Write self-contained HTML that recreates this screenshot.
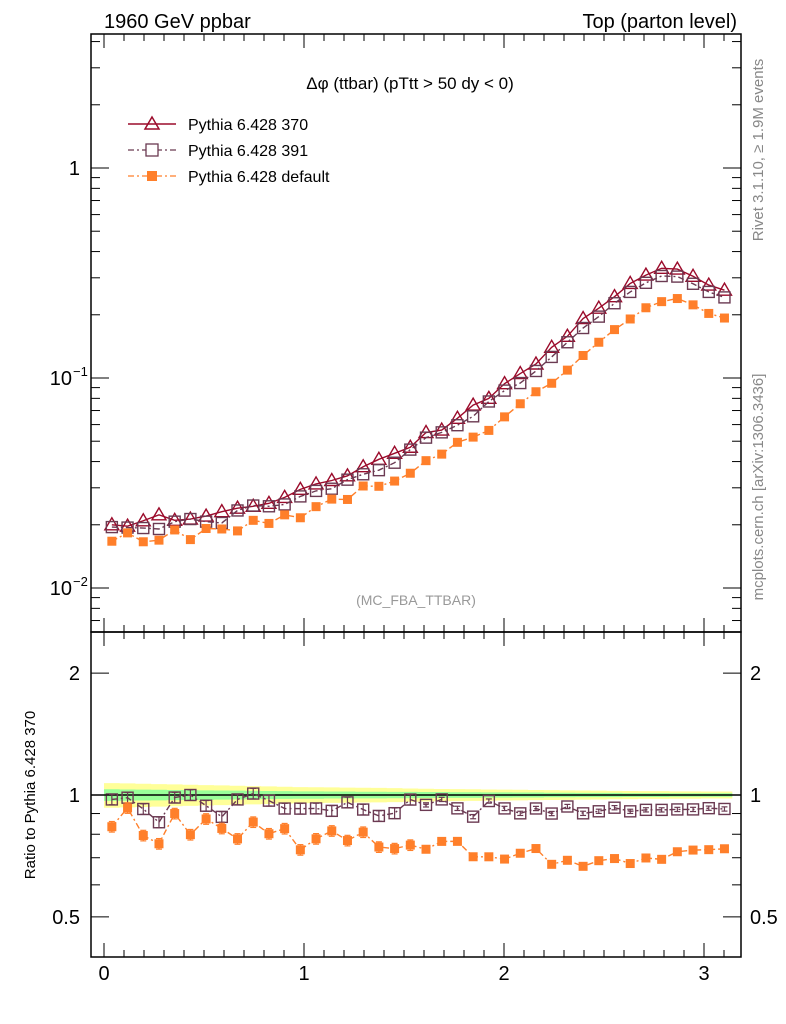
<!DOCTYPE html>
<html><head><meta charset="utf-8"><style>
html,body{margin:0;padding:0;background:#fff;}
svg{display:block;font-family:"Liberation Sans",sans-serif;}
</style></head><body>
<svg id="chart" width="786" height="1024" viewBox="0 0 786 1024" xmlns="http://www.w3.org/2000/svg">
<text x="104" y="28" font-size="20">1960 GeV ppbar</text>
<text x="737" y="28" font-size="20" text-anchor="end">Top (parton level)</text>
<text x="410" y="89" font-size="17" text-anchor="middle">Δφ (ttbar) (pTtt &gt; 50 dy &lt; 0)</text>
<text x="416" y="605" font-size="14" fill="#999" text-anchor="middle">(MC_FBA_TTBAR)</text>
<text transform="translate(763,150) rotate(-90)" font-size="15" fill="#888" text-anchor="middle">Rivet 3.1.10, ≥ 1.9M events</text>
<text transform="translate(763,487) rotate(-90)" font-size="15" fill="#888" text-anchor="middle">mcplots.cern.ch [arXiv:1306.3436]</text>
<text transform="translate(35,795) rotate(-90)" font-size="15" text-anchor="middle">Ratio to Pythia 6.428 370</text>
<g id="band"></g><g id="marks"></g><g id="axes"></g>
<g>
<line x1="128" y1="124" x2="176" y2="124" stroke="#9b0b2b" stroke-width="1.5"/>
<polygon points="152,117 159,129 145,129" fill="none" stroke="#9b0b2b" stroke-width="1.5"/>
<text x="188" y="130" font-size="16">Pythia 6.428 370</text>
<line x1="128" y1="150" x2="176" y2="150" stroke="#6b3a52" stroke-width="1.3" stroke-dasharray="6,3,2,3"/>
<rect x="146" y="144" width="12" height="12" fill="#fff" stroke="#6b3a52" stroke-width="1.3"/>
<text x="188" y="156" font-size="16">Pythia 6.428 391</text>
<line x1="128" y1="176" x2="176" y2="176" stroke="#ff7f2a" stroke-width="1.3" stroke-dasharray="6,3,2,3"/>
<rect x="147" y="171" width="10" height="10" fill="#ff7f2a"/>
<text x="188" y="182" font-size="16">Pythia 6.428 default</text>
</g>
</svg>
<script>
const v370=[0.0200,0.0197,0.0209,0.0223,0.0210,0.0213,0.0220,0.0231,0.0240,0.0245,0.0253,0.0270,0.0295,0.0313,0.0325,0.0342,0.0378,0.0410,0.0438,0.0468,0.0550,0.0565,0.0643,0.0743,0.0800,0.0940,0.105,0.1166,0.140,0.158,0.192,0.215,0.244,0.282,0.309,0.333,0.330,0.305,0.277,0.262];
const v391=[0.0195,0.0194,0.0193,0.0191,0.0207,0.0213,0.0207,0.0204,0.0234,0.0247,0.0245,0.0250,0.0273,0.0290,0.0297,0.0328,0.0348,0.0364,0.0395,0.0456,0.0520,0.0551,0.0596,0.0657,0.0773,0.0871,0.0946,0.108,0.126,0.148,0.173,0.196,0.227,0.257,0.284,0.306,0.304,0.281,0.257,0.242];
const vDef=[0.0167,0.0183,0.0166,0.0169,0.0189,0.0170,0.0192,0.0191,0.0187,0.0210,0.0203,0.0223,0.0216,0.0244,0.0265,0.0264,0.0306,0.0305,0.0323,0.0352,0.0404,0.0434,0.0494,0.0523,0.0563,0.0653,0.0754,0.0860,0.0944,0.109,0.128,0.148,0.170,0.191,0.216,0.231,0.239,0.223,0.203,0.193];
const bandYellow=[0.07,0.068,0.066,0.064,0.062,0.06,0.058,0.056,0.054,0.052,0.05,0.048,0.046,0.045,0.044,0.043,0.042,0.041,0.04,0.038,0.036,0.035,0.034,0.033,0.032,0.031,0.03,0.029,0.028,0.027,0.026,0.025,0.024,0.023,0.022,0.022,0.021,0.021,0.02,0.02];
const bandGreen=[0.033,0.032,0.031,0.03,0.029,0.028,0.027,0.026,0.025,0.024,0.023,0.022,0.021,0.021,0.02,0.02,0.019,0.019,0.018,0.018,0.017,0.017,0.016,0.016,0.015,0.015,0.014,0.014,0.013,0.013,0.012,0.012,0.012,0.011,0.011,0.011,0.01,0.01,0.01,0.01];
const xTickLabels=["0","1","2","3"];
const NS='http://www.w3.org/2000/svg';
const L=91,R=741,T=34,MB=632,RB=957;
const X=v=>104+v*200;
const Y=v=>168-Math.log10(v)*210;
const YR=v=>795-Math.log10(v)*405;
const binW=Math.PI/v370.length;
const cx=i=>(i+0.5)*binW;
function mk(tag,attrs,parent){const e=document.createElementNS(NS,tag);for(const k in attrs)e.setAttribute(k,attrs[k]);parent.appendChild(e);return e;}
const band=document.getElementById('band'),marks=document.getElementById('marks'),axes=document.getElementById('axes');
function bandPath(arr){let top=[],bot=[];arr.forEach((d,i)=>{const x0=X(i*binW),x1=X((i+1)*binW);top.push(x0+','+YR(1+d),x1+','+YR(1+d));bot.unshift(x1+','+YR(1-d),x0+','+YR(1-d));});return top.concat(bot).join(' ');}
let by=mk('polygon',{points:bandPath(bandYellow),fill:'#ffff99'},band);


let bg=mk('polygon',{points:bandPath(bandGreen),fill:'#99ff99'},band);


let ref=mk('line',{x1:L,x2:R,y1:YR(1),y2:YR(1),stroke:'#000','stroke-width':1.5},band);


const series=[
 {name:'370',vals:v370,col:'#9b0b2b',dash:'',m:'tri'},
 {name:'391',vals:v391,col:'#6b3a52',dash:'6,3,2,3',m:'sq'},
 {name:'default',vals:vDef,col:'#ff7f2a',dash:'6,3,2,3',m:'fsq'}];
series.forEach(s=>{
 const g=mk('g',{},marks);
 
 
 const pts=s.vals.map((v,i)=>X(cx(i))+','+Y(v)).join(' ');
 mk('polyline',{points:pts,fill:'none',stroke:s.col,'stroke-width':1.4,'stroke-dasharray':s.dash},g);
 const rp=s.vals.map((v,i)=>X(cx(i))+','+YR(v/v370[i])).join(' ');
 if(s.name!=='370')mk('polyline',{points:rp,fill:'none',stroke:s.col,'stroke-width':1.4,'stroke-dasharray':s.dash},g);
 s.vals.forEach((v,i)=>{
  [[Y(v),'main'],[YR(v/v370[i]),'ratio']].forEach(([y,w])=>{
   if(s.name==='370'&&w==='ratio')return;
   const x=X(cx(i));let e;
   if(w==='ratio'){const r=v/v370[i],err=i<20?0.03:0.012;
    mk('line',{x1:x,x2:x,y1:YR(r*(1+err)),y2:YR(r*(1-err)),stroke:s.col,'stroke-width':1.2},g);
    mk('line',{x1:x-3,x2:x+3,y1:YR(r*(1+err)),y2:YR(r*(1+err)),stroke:s.col,'stroke-width':1.2},g);
    mk('line',{x1:x-3,x2:x+3,y1:YR(r*(1-err)),y2:YR(r*(1-err)),stroke:s.col,'stroke-width':1.2},g);}
   if(s.m==='tri')e=mk('polygon',{points:`${x},${y-7} ${x+7},${y+5} ${x-7},${y+5}`,fill:'none',stroke:s.col,'stroke-width':1.4},g);
   else if(s.m==='sq')e=mk('rect',{x:x-5.5,y:y-5.5,width:11,height:11,fill:'none',stroke:s.col,'stroke-width':1.4},g);
   else e=mk('rect',{x:x-4.5,y:y-4.5,width:9,height:9,fill:s.col},g);
   
   
  });
 });
});
[[T,MB],[MB,RB]].forEach(([a,b],k)=>{
 const f=mk('rect',{x:L,y:a,width:R-L,height:b-a,fill:'none',stroke:'#000','stroke-width':1.5},axes);
 
 
});
for(let t=0;t<=31;t++){const v=t/10,x=X(v);if(x>R)break;const len=t%10===0?14:7;
 [T,MB,RB].forEach(y0=>{
  if(y0===T||y0===MB)mk('line',{x1:x,x2:x,y1:y0,y2:y0+len,stroke:'#000','stroke-width':1},axes);
  if(y0===MB||y0===RB)mk('line',{x1:x,x2:x,y1:y0,y2:y0-len,stroke:'#000','stroke-width':1},axes);
 });}
xTickLabels.forEach((s,i)=>{const e=mk('text',{x:X(+s),y:980,'font-size':20,'text-anchor':'middle'},axes);e.textContent=s;
 
 });
for(let d=-3;d<=4;d++)for(let m=1;m<10;m++){const v=m*Math.pow(10,d),y=Y(v);if(y<T||y>MB)continue;const len=m===1?18:9;
 mk('line',{x1:L,x2:L+len,y1:y,y2:y,stroke:'#000','stroke-width':1},axes);
 mk('line',{x1:R,x2:R-len,y1:y,y2:y,stroke:'#000','stroke-width':1},axes);}
[[1,'1'],[0.1,'10'],[0.01,'10']].forEach(([v,s],i)=>{
 const e=mk('text',{x:i?72:80,y:Y(v)+7,'font-size':20,'text-anchor':'end'},axes);e.textContent=s;
 
 
 if(i){const sp=mk('text',{x:73,y:Y(v)-2,'font-size':13},axes);sp.textContent=i===1?'−1':'−2';
  
  }
});
[0.5,0.6,0.7,0.8,0.9,1,2].forEach(v=>{const y=YR(v);const len=(v===1||v===2||v===0.5)?18:9;
 mk('line',{x1:L,x2:L+len,y1:y,y2:y,stroke:'#000','stroke-width':1},axes);
 mk('line',{x1:R,x2:R-len,y1:y,y2:y,stroke:'#000','stroke-width':1},axes);});
[[2,'2'],[1,'1'],[0.5,'0.5']].forEach(([v,s])=>{
 const a=mk('text',{x:80,y:YR(v)+7,'font-size':20,'text-anchor':'end'},axes);a.textContent=s;
 
 
 const b=mk('text',{x:750,y:YR(v)+7,'font-size':20},axes);b.textContent=s;
 
 
});
</script>
</body></html>
